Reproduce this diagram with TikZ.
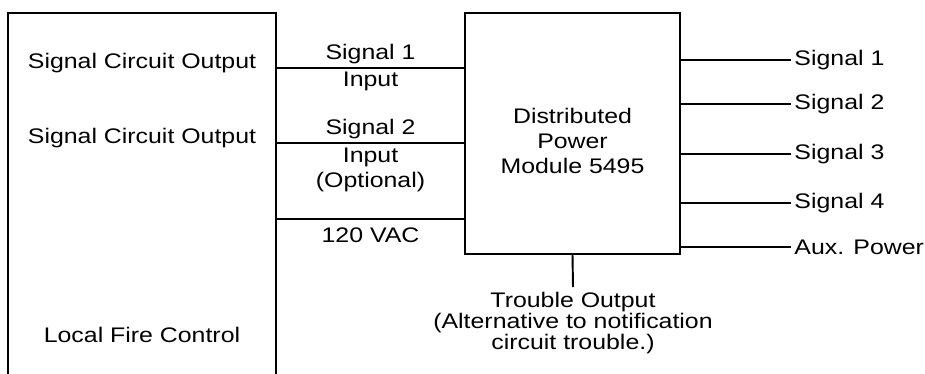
\documentclass[tikz,border=0pt]{standalone}
\usepackage{fontspec}
\setmainfont{Liberation Sans}[FakeStretch=1.18]
\usetikzlibrary{positioning}

\tikzset{
  block/.style={draw, line width=1.1pt, inner sep=0pt},
  wire/.style={line width=1.1pt},
  lbl/.style={font=\fontsize{12}{14.2}\selectfont, inner sep=0pt, align=center},
}

\begin{document}
\begin{tikzpicture}[x=0.02cm,y=-0.02cm]
\useasboundingbox (0,0) rectangle (925,373);
% the two units (the fire panel runs on below the page)
\node[block, minimum width=5.36cm, minimum height=7.74cm] (fire) at (142,206.5) {};
\node[block, minimum width=4.3cm, minimum height=4.82cm] (dpm) at (572.5,133.5) {};

% texts in the panel
\node[lbl, anchor=base] (out1) at (142,68) {Signal Circuit Output};
\node[lbl, anchor=base] (out2) at (142,143) {Signal Circuit Output};
\node[lbl, anchor=base] (local) at (142,342) {Local Fire Control};
\node[lbl, anchor=north] (dpmtext) at (572.5,108) {Distributed\\Power\\Module 5495};

% inputs
\coordinate (in1) at (371,68);
\coordinate (in2) at (371,143);
\coordinate (ac) at (371,219);
\draw[wire] (fire.east |- in1) -- node[lbl, midway, above=0.06cm] (in1t) {Signal 1}
  node[lbl, midway, below=0.07cm] (in1b) {Input} (dpm.west |- in1);
\draw[wire] (fire.east |- in2) -- node[lbl, midway, above=0.06cm] (in2t) {Signal 2}
  node[lbl, midway, below=0.08cm] (in2b) {Input\\(Optional)} (dpm.west |- in2);
\draw[wire] (fire.east |- ac) -- node[lbl, midway, below=0.16cm] (act) {120 VAC} (dpm.west |- ac);

% outputs
\coordinate (sig1) at (791,60);
\coordinate (sig2) at (791,104);
\coordinate (sig3) at (791,154);
\coordinate (sig4) at (791,203);
\coordinate (aux) at (791,247);
\draw[wire] (dpm.east |- sig1) -- (sig1) node[lbl, right=0.05cm] (sig1t) {Signal 1};
\draw[wire] (dpm.east |- sig2) -- (sig2) node[lbl, right=0.05cm] (sig2t) {Signal 2};
\draw[wire] (dpm.east |- sig3) -- (sig3) node[lbl, right=0.05cm] (sig3t) {Signal 3};
\draw[wire] (dpm.east |- sig4) -- (sig4) node[lbl, right=0.05cm] (sig4t) {Signal 4};
\draw[wire] (dpm.east |- aux) -- (aux) node[lbl, right=0.05cm] (auxt) {Aux. Power};

% trouble output
\node[lbl, font=\fontsize{12}{11.95}\selectfont, anchor=north, inner sep=0.1cm] (trouble) at (573,287)
  {Trouble Output\\(Alternative to notification\\circuit trouble.)};
\draw[wire] (dpm.south) -- (trouble.north);
\end{tikzpicture}
\end{document}
